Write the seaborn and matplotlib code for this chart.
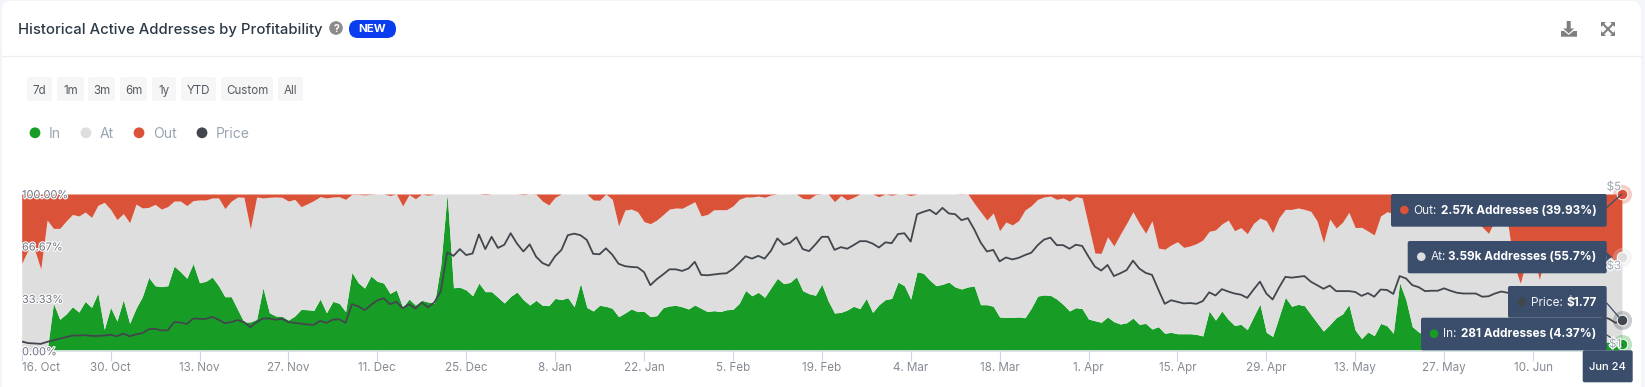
import pandas as pd
import matplotlib.pyplot as plt
import seaborn as sns
import matplotlib.patheffects as pe
from matplotlib.patches import FancyBboxPatch, Circle, Polygon

# --- Data (one value per day, 16 Oct - 24 Jun) ---
START_DATE = '2023-10-16'

in_pct = [
    0, 0, 0, 0, 0, 30.4, 20.2, 23.6, 28.2, 24.8,
    31.6, 27.8, 36.9, 13.8, 27.8, 19.1, 32.7, 17.6, 27.2, 34.6,
    46.9, 41.6, 41, 41.6, 54.1, 50.5, 46.3, 55.8, 43.5, 44.4,
    47.1, 41.6, 34.6, 34.6, 26.5, 18.5, 18.5, 20.2, 40.3, 24.4,
    22.3, 22.1, 19.7, 22.3, 26.5, 26.3, 25.9, 33.1, 24.4, 31.6,
    30.4, 25.1, 50.1, 43.5, 40.1, 47.8, 44.4, 43.3, 36.7, 38.9,
    27.8, 33.1, 29.3, 32.3, 31.2, 30.4, 55, 100, 40.3, 40.6,
    38.9, 35.2, 43.3, 37.8, 37.8, 34.2, 30.6, 34.8, 37.6, 32.7,
    29.3, 32.3, 29.1, 28.9, 33.5, 32.7, 34, 28.2, 43.1, 27.8,
    25.5, 29.1, 28.5, 27.2, 21.9, 24.2, 26.8, 25.1, 25.3, 21.9,
    22.5, 27.6, 28.7, 29.1, 28.2, 26.8, 29.3, 27.2, 25.1, 25.7,
    25.1, 26.3, 26.5, 30.4, 38.6, 35.2, 37.4, 34.2, 40.3, 46.3,
    42.9, 43.7, 47.3, 38.4, 36.5, 35.5, 42.5, 32, 24.2, 24.6,
    26.1, 28.5, 27, 33.5, 24.6, 29.5, 32.7, 33.5, 43.9, 41.6,
    33.1, 50.5, 49.5, 45.2, 41.6, 42.5, 43.9, 40.8, 39.5, 40.8,
    41.4, 29.5, 29.5, 28.5, 21.7, 21.4, 21.4, 21.7, 21.2, 27.4,
    35, 35.7, 35.5, 33.1, 29.7, 25.5, 27.6, 27, 20.4, 19.3,
    18.3, 21.7, 18.7, 17.2, 18, 21, 17, 17.6, 14, 15.5,
    11.3, 11.9, 11, 11, 11, 10.6, 9.6, 25.5, 19.7, 25.5,
    20.2, 16.3, 17, 13.6, 21.9, 29.9, 11.9, 9.3, 21.7, 34.2,
    28.5, 29.7, 28.9, 23.4, 18, 12.7, 16.8, 21.2, 23.6, 29.5,
    13.4, 7.9, 12.1, 9.8, 17.6, 16.1, 11.3, 43.5, 32.5, 15.5,
    12.1, 10, 9, 8.5, 8, 8, 7.5, 7, 7, 6.5,
    7, 7, 6.5, 6, 6, 6.5, 6, 6, 5.5, 5.5,
    6, 6, 5.5, 5, 5, 5.5, 5.5, 5, 5, 5.5,
    5.8, 5, 4.37,
]

out_pct = [
    44.2, 35.7, 35, 47.8, 16.6, 21.9, 21.9, 17.2, 13, 14,
    11.5, 14.9, 7.2, 5.3, 9.8, 16.3, 12.5, 18.3, 6.4, 8.9,
    8.5, 6.6, 9.6, 8, 4.5, 4.5, 7.4, 4.2, 3.8, 3.8,
    2.5, 2.5, 9.3, 4.5, 1.9, 2.1, 22.3, 1.9, 2.5, 2.1,
    1.9, 2.1, 4.5, 3.4, 8.1, 6.2, 4.2, 1.7, 2.5, 1.9,
    1.7, 3.4, 0.2, 0.2, 0.6, 0.2, 0, 0, 1, 0,
    7.6, 0.4, 3, 0, 0.8, 0, 0, 0, 0, 0,
    0, 0, 0, 0.4, 0, 0, 0, 0, 0, 0.4,
    0, 0.2, 4.5, 7, 2.1, 0, 0, 0, 0, 0,
    3.8, 4, 0, 3.4, 20.4, 10.2, 9.6, 11.3, 17.6, 18.9,
    16.6, 13.2, 9.6, 8.9, 9.1, 7, 4.9, 14, 13, 10,
    10, 10, 7.6, 3.4, 1.9, 1.9, 1.3, 2.1, 0.6, 0,
    0, 0, 0, 2.8, 3.2, 0.4, 0, 0, 4.9, 1,
    3.8, 2.1, 0, 0, 0, 1.7, 0, 0.8, 0, 0,
    1, 0, 0, 0, 0, 0, 0, 0, 0.2, 0,
    5.9, 11.3, 16.6, 12.1, 23.4, 17.8, 19.7, 17, 10.2, 7.4,
    3.4, 1.9, 1.3, 3.4, 2.5, 4.5, 1.7, 2.5, 20, 37.6,
    37.8, 27.2, 33.1, 25.7, 18.7, 11.3, 18.7, 25, 17, 34.4,
    35.2, 32.5, 30.4, 34, 33.1, 31.6, 29.3, 23.8, 22.9, 19.1,
    16.6, 23.4, 21.4, 25.3, 18.7, 15.3, 17, 24.6, 15.1, 9.8,
    9.8, 8.9, 9.8, 11, 17.2, 31, 15.9, 21.7, 18, 11.7,
    21.4, 21.2, 23.6, 26.1, 14, 11.3, 12.3, 12, 10, 12,
    14, 15, 13, 12, 15, 16, 14, 13, 15, 17,
    21, 25.1, 16.6, 14, 18, 45, 56.9, 42, 38, 54.4,
    38, 35, 36, 40, 42, 38, 40, 43, 41, 39,
    38.9, 43.1, 39.93,
]

price = [
    1.24, 1.20, 1.19, 1.18, 1.23, 1.27, 1.31, 1.35, 1.39, 1.39,
    1.40, 1.38, 1.38, 1.39, 1.41, 1.37, 1.44, 1.37, 1.42, 1.45,
    1.55, 1.56, 1.52, 1.52, 1.73, 1.72, 1.68, 1.82, 1.81, 1.81,
    1.86, 1.79, 1.70, 1.73, 1.78, 1.73, 1.60, 1.73, 1.82, 1.82,
    1.79, 1.81, 1.73, 1.71, 1.69, 1.67, 1.66, 1.76, 1.71, 1.79,
    1.80, 1.71, 2.18, 2.13, 2.03, 2.16, 2.28, 2.33, 2.18, 2.24,
    2.08, 2.18, 2.07, 2.22, 2.10, 2.23, 2.51, 3.49, 3.40, 3.57,
    3.42, 3.46, 3.94, 3.57, 3.88, 3.60, 3.68, 3.97, 3.71, 3.51,
    3.69, 3.38, 3.22, 3.15, 3.39, 3.55, 3.92, 3.96, 3.92, 3.80,
    3.45, 3.44, 3.59, 3.43, 3.20, 3.14, 3.12, 3.11, 2.99, 2.66,
    2.81, 2.93, 3.06, 3.06, 3.02, 3.08, 3.25, 2.92, 2.91, 2.93,
    2.95, 2.96, 3.07, 3.22, 3.39, 3.33, 3.40, 3.33, 3.53, 3.84,
    3.68, 3.73, 3.87, 3.57, 3.52, 3.69, 3.88, 3.88, 3.55, 3.62,
    3.58, 3.67, 3.77, 3.77, 3.71, 3.61, 3.74, 3.72, 3.95, 3.97,
    3.76, 4.45, 4.51, 4.56, 4.45, 4.61, 4.47, 4.45, 4.30, 4.35,
    4.07, 3.74, 3.51, 3.55, 3.26, 3.36, 3.31, 3.35, 3.42, 3.48,
    3.67, 3.81, 3.86, 3.67, 3.67, 3.58, 3.68, 3.65, 3.38, 3.13,
    3.03, 3.17, 2.89, 2.96, 3.04, 3.28, 3.08, 2.97, 2.92, 2.55,
    2.19, 2.28, 2.24, 2.20, 2.21, 2.19, 2.26, 2.48, 2.40, 2.56,
    2.50, 2.45, 2.42, 2.34, 2.55, 2.75, 2.45, 2.30, 2.60, 2.87,
    2.85, 2.87, 2.89, 2.75, 2.66, 2.57, 2.65, 2.51, 2.51, 2.51,
    2.49, 2.39, 2.46, 2.37, 2.55, 2.54, 2.44, 2.89, 2.83, 2.66,
    2.61, 2.51, 2.52, 2.52, 2.58, 2.52, 2.47, 2.45, 2.45, 2.45,
    2.37, 2.38, 2.45, 2.50, 2.47, 2.42, 2.38, 2.35, 2.30, 2.28,
    2.25, 2.22, 2.18, 2.15, 2.10, 2.05, 2.02, 1.98, 1.92, 1.86,
    1.81, 1.71, 1.77,
]

x_tick_dates = ['2023-10-16', '2023-10-30', '2023-11-13', '2023-11-27', '2023-12-11', '2023-12-25',
                '2024-01-08', '2024-01-22', '2024-02-05', '2024-02-19', '2024-03-04', '2024-03-18',
                '2024-04-01', '2024-04-15', '2024-04-29', '2024-05-13', '2024-05-27', '2024-06-10']
x_tick_labels = ['16. Oct', '30. Oct', '13. Nov', '27. Nov', '11. Dec', '25. Dec',
                 '8. Jan', '22. Jan', '5. Feb', '19. Feb', '4. Mar', '18. Mar',
                 '1. Apr', '15. Apr', '29. Apr', '13. May', '27. May', '10. Jun']
pct_ticks = [0, 33.33, 66.67, 100]
pct_labels = ['0.00%', '33.33%', '66.67%', '100.00%']
range_buttons = ['7d', '1m', '3m', '6m', '1y', 'YTD', 'Custom', 'All']
legend_names = ['In', 'At', 'Out', 'Price']

# --- Colours ---
GREEN = '#179d26'
GRAY = '#dedede'
RED = '#da5238'
DARK = '#42464d'
TIP = '#3a4d6b'
MUTED = '#9aa5b2'
TICK = '#858b93'

W, H = 1645, 387
PLOT_L, PLOT_R, PLOT_T, PLOT_B = 21.7, 1621.9, 194, 351

sns.set_theme(style="white")
plt.rcParams['font.family'] = ['Inter', 'DejaVu Sans']

df = pd.DataFrame({'in': in_pct, 'out': out_pct, 'price': price})
df['date'] = pd.date_range(START_DATE, periods=len(df), freq='D')
df['at'] = 100 - df['in'] - df['out']
last = df.iloc[[-1]].copy()
last['out_top'] = 100.0
last['at_top'] = last['in'] + last['at']

fig = plt.figure(figsize=(W / 100, H / 100), dpi=100, facecolor='#f4f5fa')


def pixel_axes(zorder):
    a = fig.add_axes([0, 0, 1, 1], zorder=zorder)
    a.set_xlim(0, W)
    a.set_ylim(H, 0)
    a.axis('off')
    a.patch.set_visible(False)
    return a


bg = pixel_axes(0)
bg.add_patch(FancyBboxPatch((2, 1), 1639, 420, boxstyle='round,pad=0,rounding_size=9', fc='white', ec='none'))
bg.plot([2, 1641], [56, 56], color='#eeeff3', lw=0.9)

# --- Main chart ---
ax = fig.add_axes([PLOT_L / W, 1 - PLOT_B / H, (PLOT_R - PLOT_L) / W, (PLOT_B - PLOT_T) / H], zorder=1)
ax.patch.set_visible(False)
ax.stackplot(df['date'], df['in'], df['at'], df['out'], colors=[GREEN, GRAY, RED], lw=0)
ax.set_xlim(df['date'].iloc[0], df['date'].iloc[-1])
ax.set_ylim(0, 100)
ax.set_yticks([])
ax.set_xticks(pd.to_datetime(x_tick_dates))
ax.set_xticklabels(x_tick_labels, fontsize=8.4, color=TICK)
ax.get_xticklabels()[0].set_ha('left')
ax.tick_params(axis='x', length=7, width=0.8, color='#ccd6eb', pad=1, bottom=True)
for s in ['top', 'left', 'right']:
    ax.spines[s].set_visible(False)
ax.spines['bottom'].set_color('#e6e9f2')

ax2 = ax.twinx()
ax2.set_zorder(2)
ax2.patch.set_visible(False)
sns.lineplot(data=df, x='date', y='price', color=DARK, lw=1.3, ax=ax2, legend=False)
ax2.set_ylim(1, 4.96)
ax2.set_yticks([])
for s in ax2.spines.values():
    s.set_visible(False)

# end-of-series markers
for a, col, c in [(ax, 'out_top', RED), (ax, 'at_top', GRAY), (ax, 'in', GREEN), (ax2, 'price', DARK)]:
    sns.scatterplot(data=last, x='date', y=col, color=c, s=190, alpha=0.28, lw=0, clip_on=False, zorder=8, ax=a, legend=False)
    sns.scatterplot(data=last, x='date', y=col, color=c, s=58, edgecolor='white', lw=0.7, clip_on=False, zorder=9, ax=a, legend=False)
ax.set_xlabel('')
ax.set_ylabel('')
ax2.set_xlabel('')
ax2.set_ylabel('')

# --- Everything around the chart, in pixels ---
ov = pixel_axes(10)
halo = [pe.withStroke(linewidth=1.6, foreground='white')]


def txt(x, y, s, px, color, ha='left', weight='normal', effects=None):
    # Inter sits a little high with va='center', so nudge it down
    t = ov.text(x, y + 1.2, s, fontsize=px * 0.72, color=color, ha=ha, va='center', fontweight=weight)
    if effects:
        t.set_path_effects(effects)
    return t


def pill(x0, y0, x1, y1, r, color):
    ov.add_patch(FancyBboxPatch((x0, y0), x1 - x0, y1 - y0, boxstyle=f'round,pad=0,rounding_size={r}', fc=color, ec='none'))


# header
txt(18, 28.5, 'Historical Active Addresses by Profitability', 14.85, '#2c3a47', weight='medium')
ov.add_patch(Circle((336, 28), 6.8, fc='#8c8c8c', ec='none'))
txt(336, 27.5, '?', 10.5, 'white', ha='center', weight='bold')
pill(349, 20, 396, 38, 9, '#0a3cf0')
txt(372.5, 28, 'NEW', 11.5, 'white', ha='center', weight='bold')

# download and fullscreen icons
ov.add_patch(Polygon([(1566.7, 21), (1570.7, 21), (1570.7, 28.5), (1574.2, 28.5), (1568.7, 33.5), (1563.2, 28.5), (1566.7, 28.5)], fc='#7f7f7f', ec='none'))
ov.add_patch(Polygon([(1561, 31), (1564, 31), (1568.7, 35), (1573.4, 31), (1577, 31), (1577, 36.7), (1561, 36.7)], fc='#7f7f7f', ec='none'))
for cx, cy, dx, dy in [(1601, 22, 1, 1), (1615, 22, -1, 1), (1601, 36, 1, -1), (1615, 36, -1, -1)]:
    ov.add_patch(Polygon([(cx, cy), (cx + 5 * dx, cy), (cx, cy + 5 * dy)], fc='#7f7f7f', ec='none'))
    ov.plot([cx + 2 * dx, cx + 7 * dx], [cy + 2 * dy, cy + 7 * dy], color='#7f7f7f', lw=1.5)

# range buttons
button_x = [(27, 52), (57, 84), (88, 115), (120, 147), (152, 176), (181, 216), (221, 273), (278, 303)]
for name, (x0, x1) in zip(range_buttons, button_x):
    pill(x0, 77, x1, 101, 2.5, '#f6f6f6')
    txt((x0 + x1) / 2, 89.5, name, 11.6, '#555b62', ha='center')

# legend
for name, c, mx in zip(legend_names, [GREEN, GRAY, RED, DARK], [35, 86, 139, 202]):
    ov.add_patch(Circle((mx, 132.8), 5.4, fc=c, ec='none'))
    txt(mx + 14, 132.5, name, 14, MUTED)

# percent and price axis labels
for v, lab in zip(pct_ticks, pct_labels):
    txt(22, PLOT_B - (PLOT_B - PLOT_T) * v / 100, lab, 11, '#6b7280', effects=halo)
for y, lab in [(186, '$5'), (265, '$3'), (343, '$1')]:
    txt(1621, y, lab, 11.6, MUTED, ha='right', effects=halo)

# connectors between tooltips and markers
ov.plot([1606.7, 1622], [207.5, 194], color=TIP, lw=0.9)
ov.add_patch(Polygon([(1606.7, 252), (1612, 257), (1606.7, 262)], fc=TIP, ec='none'))
ov.plot([1606.7, 1622], [303, 320.7], color=TIP, lw=0.9)
ov.plot([1606.7, 1623], [335, 345], color=TIP, lw=0.9)

# tooltips
tips = [
    (1391, 194, 226.7, 1404.3, 210, RED, 'Out:', '2.57k Addresses (39.93%)'),
    (1407.7, 241, 273.3, 1421.3, 256.7, GRAY, 'At:', '3.59k Addresses (55.7%)'),
    (1508, 286, 317.7, 1521.7, 302, DARK, 'Price:', '$1.77'),
    (1421, 317.7, 350.3, 1434, 333.7, GREEN, 'In:', '281 Addresses (4.37%)'),
]
for x0, y0, y1, dot_x, ty, c, name, value in tips:
    pill(x0, y0, 1606.7, y1, 2, TIP)
    ov.add_patch(Circle((dot_x, ty), 4.3, fc=c, ec='none'))
    txt(dot_x + 9, ty - 0.5, name, 11.8, '#f2f4f7')
    txt(1596.7, ty - 0.5, value, 11.8, 'white', ha='right', weight='bold')
pill(1582.7, 350.3, 1632.7, 382.3, 2, TIP)
txt(1607.2, 365.5, 'Jun 24', 11.2, 'white', ha='center', weight='medium')

fig.savefig('out.png', dpi=100, facecolor=fig.get_facecolor())
